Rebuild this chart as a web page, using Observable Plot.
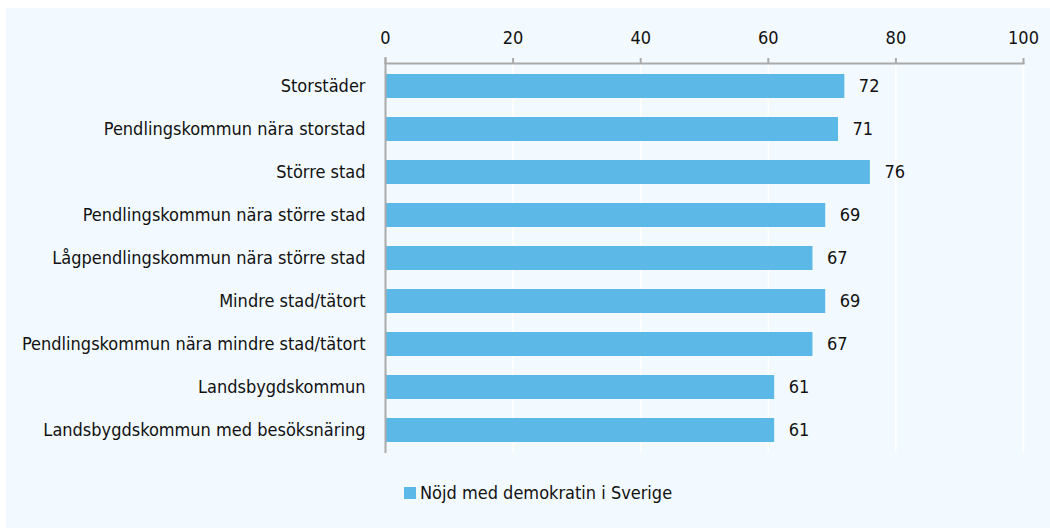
<!DOCTYPE html>
<html><head><meta charset="utf-8">
<script src="https://cdn.jsdelivr.net/npm/d3@7"></script>
<script src="https://cdn.jsdelivr.net/npm/@observablehq/plot@0.6"></script>
<style>
body{margin:0;background:#fff;}
#wrap{position:absolute;left:6px;top:8px;width:1044px;height:520px;background:#f2faff;font-family:"DejaVu Sans Condensed","Noto Sans",sans-serif;}
#legend{position:absolute;left:398px;top:474px;font-size:18px;color:#111;display:flex;align-items:center;}
#legend span.sw{display:inline-block;width:12px;height:12px;background:#5cb9e7;margin-right:4px;}
</style></head>
<body><div id="wrap"><div id="chart"></div><div id="legend"><span class="sw"></span><span id="ltxt"></span></div></div>
<script>
const categories = ["Storstäder","Pendlingskommun nära storstad","Större stad","Pendlingskommun nära större stad","Lågpendlingskommun nära större stad","Mindre stad/tätort","Pendlingskommun nära mindre stad/tätort","Landsbygdskommun","Landsbygdskommun med besöksnäring"];
const values = [72,71,76,69,67,69,67,61,61];
const xTicks = [0,20,40,60,80,100];
const seriesName = "Nöjd med demokratin i Sverige";
const data = categories.map((c,i)=>({cat:c, v:values[i]}));
document.getElementById("ltxt").textContent = seriesName;
const chart = Plot.plot({
  width:1044, height:465,
  marginLeft:379, marginRight:27, marginTop:55, marginBottom:20,
  style:{background:"transparent", fontFamily:'"DejaVu Sans Condensed","Noto Sans",sans-serif', fontSize:"18px", color:"#111"},
  x:{domain:[0,100], axis:null},
  y:{domain:categories, paddingInner:0.44, paddingOuter:0.22, axis:null},
  marks:[
    Plot.gridX(xTicks,{stroke:"white", strokeOpacity:1, strokeWidth:1.5}),
    Plot.barX(data,{x:"v", y:"cat", fill:"#5cb9e7"}),
    Plot.text(data,{x:"v", y:"cat", text:d=>String(d.v), textAnchor:"start", dx:14, fontSize:18, fill:"#111"}),
    Plot.axisX({anchor:"top", ticks:xTicks, tickSize:6, tickPadding:14, stroke:"#aaa", strokeWidth:2, fontSize:18, fill:"#111", label:null}),
    Plot.axisY({tickSize:0, tickPadding:20, fontSize:18, fill:"#111", label:null}),
    Plot.frame({anchor:"top", stroke:"#aaa", strokeWidth:2}),
    Plot.ruleX([0],{stroke:"#aaa", strokeWidth:2, insetTop:-6})
  ]
});
document.getElementById("chart").appendChild(chart);
</script></body></html>
